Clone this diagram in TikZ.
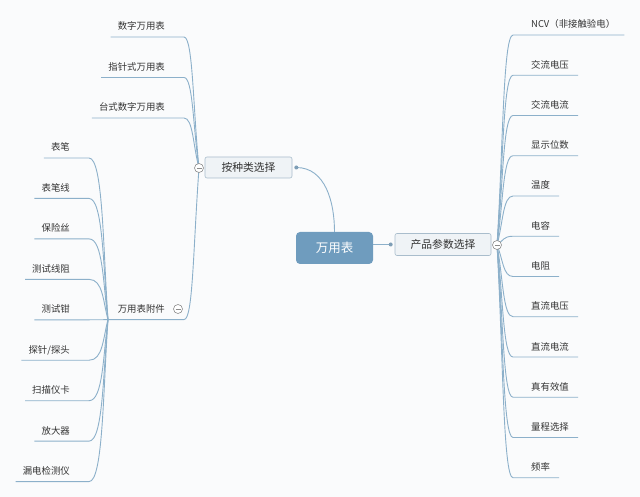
\documentclass[tikz,border=0pt]{standalone}
\usepackage{fontspec}
\setmainfont{Noto Sans CJK SC}
\usetikzlibrary{calc}
\definecolor{bgc}{HTML}{FAFBFC}
\definecolor{lnc}{HTML}{8CB0CA}
\definecolor{txc}{HTML}{333333}
\definecolor{rootc}{HTML}{6F9CBE}
\definecolor{subfill}{HTML}{EFF3F6}
\definecolor{subdraw}{HTML}{A9BDCC}
\definecolor{circc}{HTML}{8C8C8C}
\begin{document}
\begin{tikzpicture}[x=1pt,y=-1pt,
  branch/.style={draw=lnc, line width=0.9pt},
  leaf/.style={inner sep=0pt, font=\fontsize{9.4}{11}\selectfont, text=txc},
  rootbox/.style={fill=rootc, rounded corners=4pt, minimum width=77pt, minimum height=32pt, text=white, font=\fontsize{12.5}{14}\selectfont},
  subbox/.style={fill=subfill, draw=subdraw, line width=0.6pt, rounded corners=2pt, text=txc, font=\fontsize{10.8}{12}\selectfont},
  collapse/.style={circle, draw=circc, fill=white, line width=0.6pt, minimum size=9pt, inner sep=0pt,
    path picture={\draw[circc, line width=0.6pt] ($(path picture bounding box.west)+(2pt,0)$) -- ($(path picture bounding box.east)+(-2pt,0)$);}},
  jdot/.style={circle, fill=lnc!90!black, minimum size=4pt, inner sep=0pt}
]
\fill[bgc] (0,0) rectangle (640,497);
\useasboundingbox (0,0) rectangle (640,497);

% main nodes
\node[rootbox] (root) at (334.5,248) {万用表};
\node[subbox, minimum width=87pt, minimum height=21pt] (kind) at (248.5,167.5) {按种类选择};
\node[subbox, minimum width=96pt, minimum height=22pt] (param) at (443,244.5) {产品参数选择};
\coordinate (kdot) at ($(kind.east)+(4,0)$);
\coordinate (pdot) at ($(param.west)+(-4,0)$);
\coordinate (kc) at (199,168);
\coordinate (pc) at (497,245);
\coordinate (acc) at (178,309);
\coordinate (aj) at (108,319.6);
\coordinate (ak) at (184,319.6);

% root connectors
\draw[branch] (root.north) to[out=90,in=0] (kdot);
\draw[branch] (root.east |- pdot) -- (pdot);

% right branch: product parameters
\foreach \i/\t in {0/NCV（非接触验电）,1/交流电压,2/交流电流,3/显示位数,4/温度,5/电容,6/电阻,7/直流电压,8/直流电流,9/真有效值,10/量程选择,11/频率}{
  \pgfmathsetmacro\yy{35+40.25*\i}
  \node[leaf, anchor=base west] (r\i) at (531,\yy-7) {\t};
  \coordinate (rs\i) at (513,\yy);
  \coordinate (re\i) at ($(r\i.base east)+(9,7)$);
  \draw[branch] (pc) .. controls (503,{245+0.45*(\yy-245)}) and (503,\yy) .. (rs\i) -- (re\i);
}

% left top: kinds
\foreach \i/\t in {0/数字万用表,1/指针式万用表,2/台式数字万用表}{
  \pgfmathsetmacro\yy{37+40.5*\i}
  \node[leaf, anchor=base east] (k\i) at (165,\yy-7) {\t};
  \coordinate (ks\i) at (184,\yy);
  \coordinate (ke\i) at ($(k\i.base west)+(-7,7)$);
  \draw[branch] (kc) .. controls (193,{168+0.45*(\yy-168)}) and (193,\yy) .. (ks\i) -- (ke\i);
}

% accessories node
\node[leaf, anchor=base east] (accn) at (165,312.6) {万用表附件};
\draw[branch] (kc) .. controls (193,{168+0.55*(319.6-168)}) and (193,319.6) .. (ak) -- (aj);

% accessories children
\foreach \i/\t in {0/表笔,1/表笔线,2/保险丝,3/测试线阻,4/测试钳,5/{探针/探头},6/扫描仪卡,7/放大器,8/漏电检测仪}{
  \pgfmathsetmacro\yy{158+40.45*\i}
  \node[leaf, anchor=base east] (a\i) at (70,\yy-7) {\t};
  \coordinate (as\i) at (89,\yy);
  \coordinate (ae\i) at ($(a\i.base west)+(-7,7)$);
  \draw[branch] (aj) .. controls (103,{319.6+0.45*(\yy-319.6)}) and (103,\yy) .. (as\i) -- (ae\i);
}

% dots and collapse circles
\node[jdot] at (kdot) {};
\node[jdot] at (pdot) {};
\node[collapse] (kcn) at (kc) {};
\node[collapse] (pcn) at (pc) {};
\node[collapse] (accc) at (acc) {};
\end{tikzpicture}
\end{document}
